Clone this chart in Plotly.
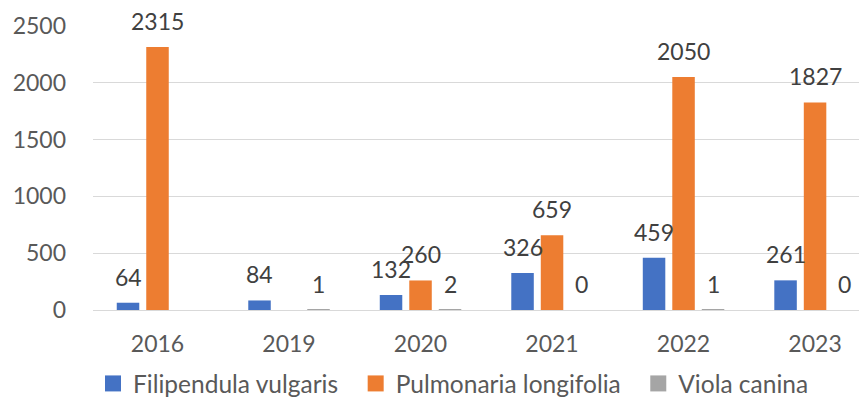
import plotly.graph_objects as go

years = ["2016", "2019", "2020", "2021", "2022", "2023"]
filipendula = [64, 84, 132, 326, 459, 261]
pulmonaria = [2315, None, 260, 659, 2050, 1827]
viola = [None, 1, 2, 0, 1, 0]
series_names = ["Filipendula vulgaris", "Pulmonaria longifolia", "Viola canina"]
colors = ["#4472C4", "#ED7D31", "#A5A5A5"]

FONT = "Lato"
W, H = 859, 398  # page body has 8px margin inside the 867x406 window
fig = go.Figure()
all_series = [filipendula, pulmonaria, viola]
for name, vals, col in zip(series_names, all_series, colors):
    fig.add_trace(go.Bar(x=years, y=vals, name=name, marker_color=col,
                         marker_line_width=0, showlegend=False))
# legend entries with larger square swatches
for name, col in zip(series_names, colors):
    fig.add_trace(go.Scatter(x=[None], y=[None], mode="markers", name=name + "\u00a0\u00a0",
                             marker=dict(symbol="square", size=16, color=col)))

# data labels above bars
slot_px = 29.5
for i, vals in enumerate(all_series):
    for j, v in enumerate(vals):
        if v is None:
            continue
        fig.add_annotation(x=j, y=v, xref="x", yref="y", text=str(v),
                           showarrow=False, yanchor="bottom",
                           xshift=(i - 1) * slot_px, yshift=10,
                           font=dict(family=FONT, size=23, color="#404040"))

fig.update_layout(
    width=W, height=H,
    margin=dict(l=85, r=0, t=18, b=96),
    plot_bgcolor="white", paper_bgcolor="white",
    barmode="group", bargap=0.327, bargroupgap=0.237,
    font=dict(family=FONT, size=23, color="#595959"),
    legend=dict(orientation="h", x=85 / W, xref="container", xanchor="left",
                y=0.0, yref="container", yanchor="bottom",
                font=dict(family=FONT, size=24.5, color="#595959"),
                itemclick=False, itemdoubleclick=False),
    xaxis=dict(type="category", range=[-0.4905, 5.395], showgrid=False,
               showline=False, ticks="", ticklabelstandoff=18, fixedrange=True),
    yaxis=dict(range=[0, 2500], dtick=500, showgrid=True, gridcolor="#D9D9D9",
               gridwidth=1, zeroline=True, zerolinecolor="#D9D9D9",
               zerolinewidth=1, showline=False, ticks="",
               ticklabelstandoff=26, fixedrange=True),
)

fig.write_html("out.html")
